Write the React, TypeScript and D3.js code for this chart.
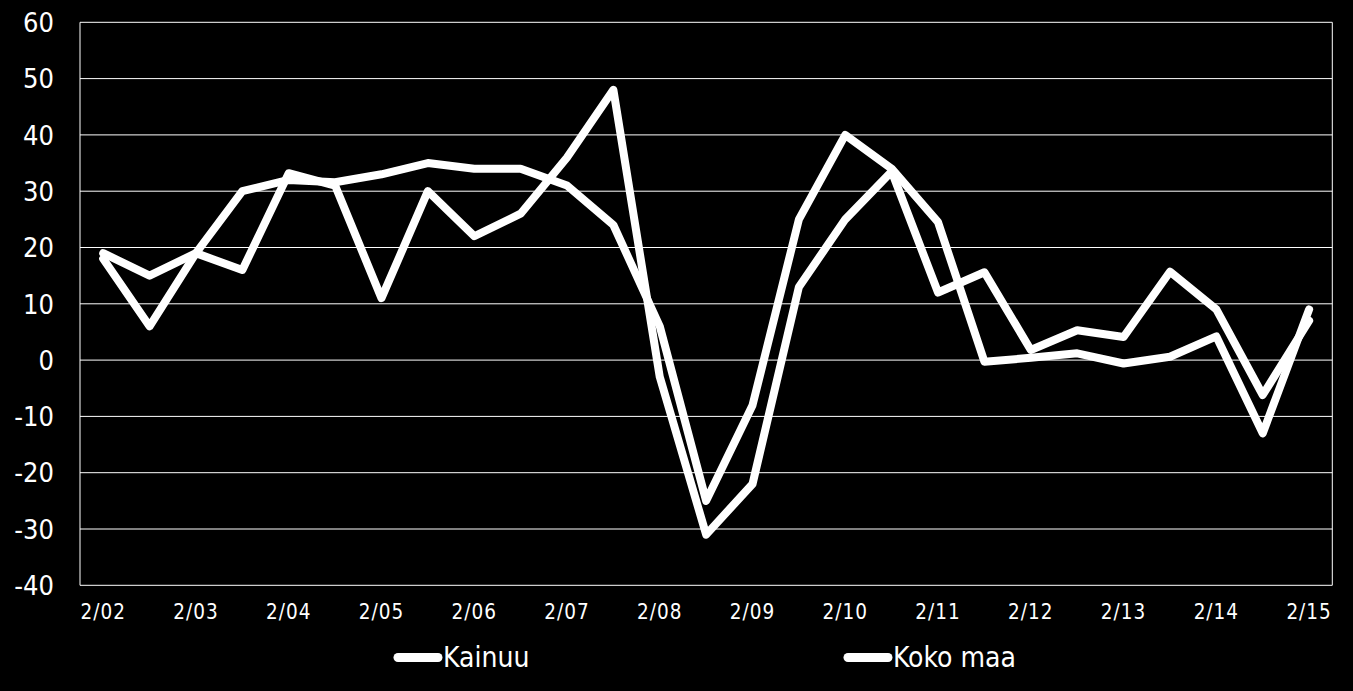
import React from "react";
import * as d3 from "d3";

const periods: string[] = [
  "2/02", "8/02", "2/03", "8/03", "2/04", "8/04", "2/05", "8/05", "2/06", "8/06",
  "2/07", "8/07", "2/08", "8/08", "2/09", "8/09", "2/10", "8/10", "2/11", "8/11",
  "2/12", "8/12", "2/13", "8/13", "2/14", "8/14", "2/15",
];
const kainuu: number[] = [18, 6, 19, 16, 33.2, 31, 11, 30, 22, 26, 36, 48, -3, -31, -22, 13, 25, 33.5, 12, 15.6, 1.8, 5.3, 4.1, 15.7, 9, -6.2, 7];
const kokoMaa: number[] = [19, 15, 19, 30, 32, 31.6, 33, 35, 34, 34, 31, 24, 6, -25, -8, 25, 40, 34, 24.5, -0.3, 0.4, 1.2, -0.6, 0.6, 4.2, -13, 9];
const yTicks: number[] = [-40, -30, -20, -10, 0, 10, 20, 30, 40, 50, 60];
const seriesNames: string[] = ["Kainuu", "Koko maa"];

const W = 1353, H = 691;
const left = 80, right = 1332.3, top = 22.3, bottom = 585.3;
const FONT = "'DejaVu Sans Condensed', 'DejaVu Sans', sans-serif";

export default function App() {
  const x = d3.scaleBand<string>().domain(periods).range([left, right]);
  const y = d3.scaleLinear().domain([-40, 60]).range([bottom, top]);
  const cx = (p: string) => (x(p) as number) + x.bandwidth() / 2;
  const line = d3
    .line<number>()
    .x((_, i) => cx(periods[i]))
    .y((d) => y(d));
  const series = [kainuu, kokoMaa];
  const legendX = [394, 844];

  return (
    <div style={{ position: "absolute", left: 0, top: 0 }}>
      <svg width={W} height={H} style={{ display: "block" }}>
        <rect x={0} y={0} width={W} height={H} fill="#000" />
        {yTicks.map((t) => (
          <line key={"g" + t} x1={left} x2={right} y1={y(t)} y2={y(t)} stroke="#fff" strokeWidth={1} />
        ))}
        <line x1={left} x2={left} y1={top} y2={bottom} stroke="#fff" strokeWidth={1} />
        <line x1={right} x2={right} y1={top} y2={bottom} stroke="#fff" strokeWidth={1} />
        {yTicks.map((t) => (
          <text
            key={"t" + t}
            x={54}
            y={y(t)}
            dy="0.36em"
            textAnchor="end"
            fill="#fff"
            fontFamily={FONT}
            fontStretch="condensed"
            fontSize={27}
          >
            {t}
          </text>
        ))}
        {periods.map((p) =>
          p.startsWith("2/") ? (
            <text
              key={"x" + p}
              x={cx(p)}
              y={619}
              textAnchor="middle"
              fill="#fff"
              fontFamily={FONT}
              fontStretch="condensed"
              fontSize={20.5}
              letterSpacing={1}
            >
              {p}
            </text>
          ) : null
        )}
        {series.map((s, i) => (
          <path
            key={"s" + i}
            d={line(s) || ""}
            fill="none"
            stroke="#fff"
            strokeWidth={8}
            strokeLinejoin="round"
            strokeLinecap="round"
          />
        ))}
        {seriesNames.map((n, i) => (
          <g key={"l" + n}>
            <line
              x1={legendX[i] + 4}
              x2={legendX[i] + 44}
              y1={657.5}
              y2={657.5}
              stroke="#fff"
              strokeWidth={9}
              strokeLinecap="round"
            />
            <text
              x={legendX[i] + 49}
              y={667}
              fill="#fff"
              fontFamily={FONT}
              fontStretch="condensed"
              fontSize={28}
            >
              {n}
            </text>
          </g>
        ))}
      </svg>
    </div>
  );
}
